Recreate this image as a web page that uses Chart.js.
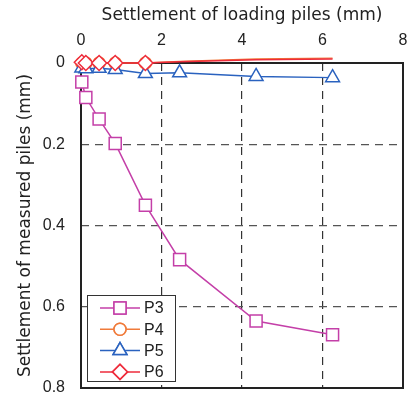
<!DOCTYPE html>
<html><head><meta charset="utf-8">
<script src="https://cdn.jsdelivr.net/npm/chart.js@4/dist/chart.umd.min.js"></script>
<style>html,body{margin:0;padding:0;background:#fff;overflow:hidden}#wrap{width:411px;height:394px;overflow:hidden}</style>
</head><body><div id="wrap"><canvas id="c" width="413" height="398"></canvas></div>
<script>
const loadX = [0.02, 0.12, 0.45, 0.85, 1.6, 2.45, 4.35, 6.25];
const p3 = [0.047, 0.085, 0.138, 0.198, 0.35, 0.484, 0.635, 0.669];
const p4 = [0.0, 0.0, 0.0, 0.0, 0.0, -0.004, -0.01, -0.012];
const p5 = [0.012, 0.014, 0.013, 0.016, 0.026, 0.024, 0.033, 0.036];
const p6 = [-0.002, 0.0, 0.0, 0.0, 0.0, -0.003, -0.008, -0.01];
const seriesNames = ['P3', 'P4', 'P5', 'P6'];
const xTicks = [0, 2, 4, 6, 8];
const yTicks = [0, 0.2, 0.4, 0.6, 0.8];

const colors = ['#c43fa8', '#f07a3a', '#2a62bf', '#ee2b3b'];
const styles = ['rect', 'circle', 'triangle', 'rectRot'];
const radii = [8.5, 6, 8, 7.5];
const vis = [1,1,1,1,1,0,0,0];
function pts(ys){ return loadX.map((x,i)=>({x, y: ys[i]})); }
const all = [p3, p4, p5, p6];
const tickFont = { size: 16, family: '"Liberation Sans", Arial, sans-serif' };
const titleFont = { size: 17, family: '"DejaVu Sans", sans-serif' };

const datasets = all.map((d, k) => ({
  label: seriesNames[k],
  data: pts(d),
  borderColor: colors[k],
  backgroundColor: '#ffffff',
  pointBorderColor: colors[k],
  pointBackgroundColor: '#ffffff',
  pointStyle: styles[k],
  pointRadius: (k === 1 || k === 3) ? vis.map(v => v ? radii[k] : 0) : radii[k],
  pointBorderWidth: 1.5,
  borderWidth: 1.5,
  clip: false,
  order: [3, 2, 1, 0][k]
}));

const frame = {
  id: 'frame',
  beforeDatasetsDraw(chart) {
    const {ctx, chartArea: a} = chart;
    ctx.save();
    ctx.strokeStyle = '#222';
    ctx.lineWidth = 2;
    ctx.strokeRect(a.left, a.top, a.right - a.left, a.bottom - a.top);
    ctx.restore();
  },
  afterDraw(chart) {
    const ctx = chart.ctx;
    const bx = 87, by = 295, bw = 88, bh = 86;
    ctx.save();
    ctx.fillStyle = '#fff';
    ctx.fillRect(bx, by, bw, bh);
    ctx.strokeStyle = '#333';
    ctx.lineWidth = 1;
    ctx.strokeRect(bx + 0.5, by + 0.5, bw, bh);
    seriesNames.forEach((n, k) => {
      const y = 308 + k * 21.3;
      ctx.strokeStyle = colors[k];
      ctx.lineWidth = 1.5;
      ctx.beginPath(); ctx.moveTo(100, y); ctx.lineTo(140, y); ctx.stroke();
      ctx.fillStyle = '#fff';
      Chart.helpers.drawPoint(ctx, {pointStyle: styles[k], radius: radii[k], borderWidth: 1.5}, 120, y);
      ctx.fill(); ctx.stroke();
      ctx.fillStyle = '#222';
      ctx.font = '16px "Liberation Sans", Arial, sans-serif';
      ctx.textBaseline = 'middle';
      ctx.fillText(n, 144, y + 1);
    });
    ctx.restore();
  }
};

new Chart(document.getElementById('c'), {
  type: 'scatter',
  data: { datasets },
  options: {
    responsive: false,
    animation: false,
    showLine: true,
    layout: { padding: { left: 0, right: 6, top: 0, bottom: 4 } },
    plugins: { legend: { display: false }, tooltip: { enabled: false } },
    scales: {
      x: {
        type: 'linear', position: 'top', min: 0, max: 8,
        afterBuildTicks: s => { s.ticks = xTicks.map(v => ({value: v})); },
        afterFit: s => { s.height = 63; s.paddingLeft = 0; s.paddingRight = 0; },
        ticks: { color: '#222', font: tickFont, padding: 13, callback: v => String(v) },
        grid: { color: '#333', lineWidth: 1.2, drawTicks: false },
        border: { display: false, dash: [8, 6] },
        title: { display: true, text: 'Settlement of loading piles (mm)', color: '#222', font: titleFont, padding: { top: 5, bottom: 4 } }
      },
      y: {
        type: 'linear', reverse: true, min: 0, max: 0.8,
        afterBuildTicks: s => { s.ticks = yTicks.map(v => ({value: v})); },
        afterFit: s => { s.width = 81; s.paddingTop = 0; s.paddingBottom = 0; },
        ticks: { color: '#222', font: tickFont, padding: 16, callback: v => String(Math.round(v * 10) / 10) },
        grid: { color: '#555', lineWidth: 1.2, drawTicks: false },
        border: { display: false, dash: [8, 6] },
        title: { display: true, text: 'Settlement of measured piles (mm)', color: '#222', font: titleFont, padding: { top: 15, bottom: 2 } }
      }
    }
  },
  plugins: [frame]
});
</script></body></html>
